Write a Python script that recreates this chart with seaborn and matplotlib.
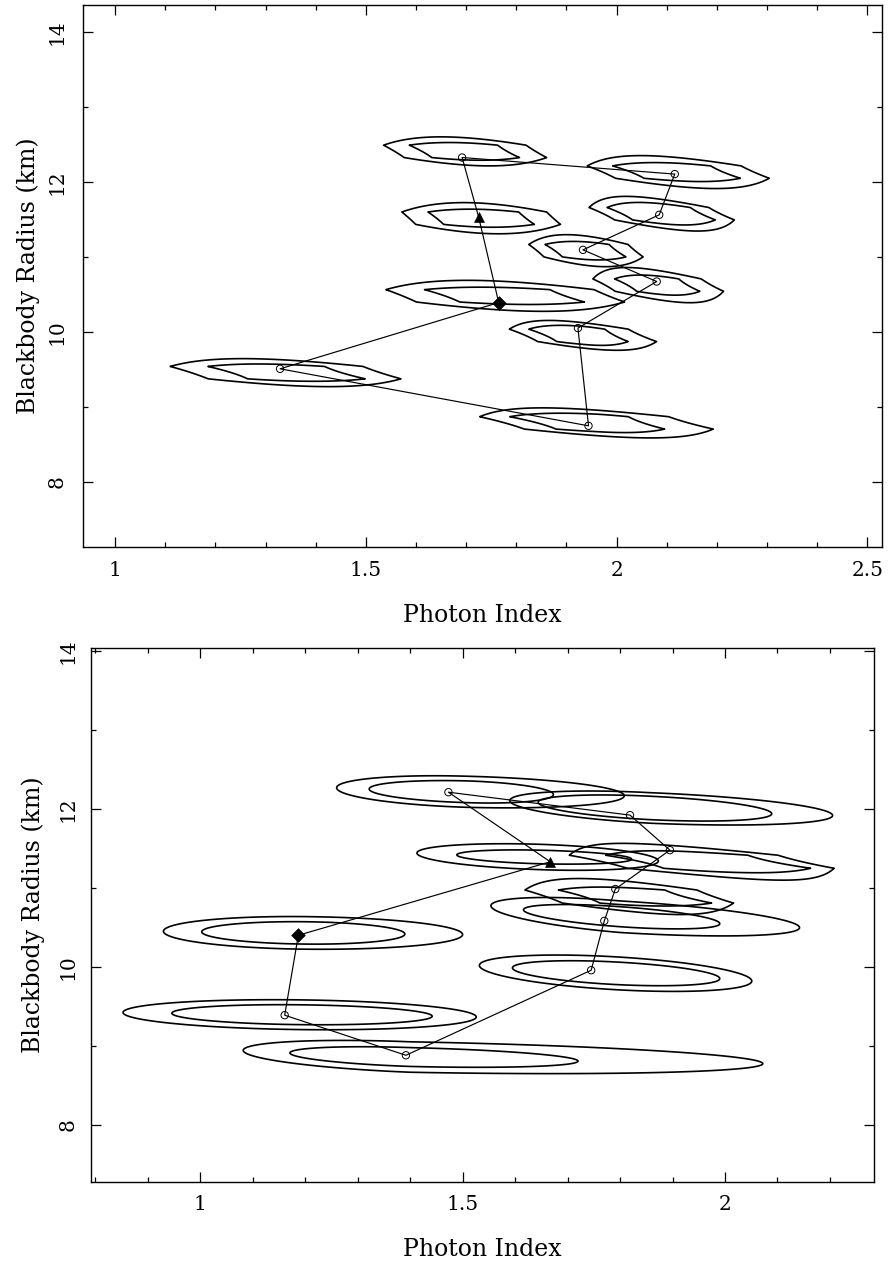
import numpy as np
import matplotlib
matplotlib.use("Agg")
import matplotlib.pyplot as plt
from matplotlib.ticker import MultipleLocator, FormatStrFormatter
import seaborn as sns

# Best-fit photon index and blackbody radius for each observation, in time order.
# The first point is drawn as a diamond, the last as a triangle, the loop is closed.
top_gamma = [1.765, 1.329, 1.944, 1.923, 2.080, 1.933, 2.085, 2.116, 1.692, 1.725]
top_radius = [10.39, 9.507, 8.747, 10.05, 10.671, 11.093, 11.56, 12.103, 12.324, 11.53]

bot_gamma = [1.187, 1.161, 1.392, 1.745, 1.770, 1.791, 1.895, 1.819, 1.473, 1.667]
bot_radius = [10.40, 9.389, 8.882, 9.958, 10.582, 10.985, 11.477, 11.92, 12.21, 11.33]

# confidence contours: centre, half-widths (left / right / vertical) and tilt
top_cx = [1.778, 1.340, 1.960, 1.933, 2.083, 1.939, 2.090, 2.123, 1.698, 1.730]
top_cy = [10.48, 9.456, 8.786, 9.953, 10.623, 11.082, 11.575, 12.130, 12.406, 11.515]
top_out_wl = [0.238, 0.230, 0.235, 0.148, 0.132, 0.114, 0.147, 0.182, 0.163, 0.160]
top_out_wr = [0.238, 0.230, 0.235, 0.148, 0.132, 0.114, 0.147, 0.182, 0.163, 0.160]
top_out_wy = [0.220, 0.206, 0.218, 0.217, 0.240, 0.225, 0.238, 0.230, 0.210, 0.220]
top_in_wl = [0.169, 0.159, 0.173, 0.108, 0.087, 0.084, 0.109, 0.132, 0.117, 0.115]
top_in_wr = [0.166, 0.163, 0.136, 0.090, 0.083, 0.082, 0.107, 0.125, 0.114, 0.115]
top_in_wy = [0.135, 0.136, 0.155, 0.160, 0.160, 0.145, 0.177, 0.150, 0.138, 0.140]
top_rho = [-0.34, -0.41, -0.50, -0.50, -0.49, -0.36, -0.50, -0.43, -0.32, -0.23]

bot_cx = [1.200, 1.190, 1.400, 1.790, 1.800, 1.820, 1.960, 1.860, 1.510, 1.650]
bot_cy = [10.43, 9.395, 8.860, 9.920, 10.635, 10.890, 11.330, 12.010, 12.215, 11.390]
bot_out_wl = [0.270, 0.337, 0.318, 0.258, 0.246, 0.204, 0.268, 0.270, 0.250, 0.237]
bot_out_wr = [0.300, 0.336, 0.672, 0.261, 0.342, 0.199, 0.259, 0.345, 0.298, 0.223]
bot_out_wy = [0.207, 0.190, 0.210, 0.230, 0.243, 0.236, 0.240, 0.215, 0.203, 0.168]
bot_in_wl = [0.197, 0.244, 0.229, 0.195, 0.184, 0.138, 0.189, 0.216, 0.188, 0.161]
bot_in_wr = [0.190, 0.252, 0.320, 0.200, 0.190, 0.155, 0.205, 0.229, 0.163, 0.172]
bot_in_wy = [0.142, 0.127, 0.130, 0.158, 0.154, 0.144, 0.170, 0.165, 0.142, 0.090]
bot_rho = [-0.10, -0.15, -0.40, -0.43, -0.57, -0.50, -0.60, -0.44, -0.25, -0.30]

x_label = "Photon Index"
y_label = "Blackbody Radius (km)"

sns.set_theme(style="ticks", rc={"axes.edgecolor": "black", "xtick.color": "black",
                                 "ytick.color": "black", "text.color": "black",
                                 "axes.labelcolor": "black"})
plt.rcParams["font.family"] = ["DejaVu Serif"]


def surface(X, Y, cx, cy, wl, wr, wy, rho):
    u = np.where(X < cx, (X - cx) / wl, (X - cx) / wr)
    v = (Y - cy) / wy
    return (u ** 2 - 2 * rho * u * v + v ** 2) / (1 - rho ** 2)


def contours(ax, cx, cy, owl, owr, owy, iwl, iwr, iwy, rho, coarse):
    # steppar-like grid: fine in x, coarse in y for the blocky contours
    for i in range(len(cx)):
        xs = np.linspace(cx[i] - 1.4 * owl[i], cx[i] + 1.4 * owr[i], 300)
        if coarse[i]:
            ys = cy[i] + 0.165 * (np.arange(-4, 4) + 0.5)
        else:
            ys = np.linspace(cy[i] - 1.5 * owy[i], cy[i] + 1.5 * owy[i], 150)
        X, Y = np.meshgrid(xs, ys)
        for wl, wr, wy in [(owl[i], owr[i], owy[i]), (iwl[i], iwr[i], iwy[i])]:
            F = surface(X, Y, cx[i], cy[i], wl, wr, wy, rho[i])
            ax.contour(X, Y, F, levels=[1.0], colors="black", linewidths=1.2)


def track(ax, gamma, radius):
    xs = list(gamma) + [gamma[0]]
    ys = list(radius) + [radius[0]]
    sns.lineplot(x=xs, y=ys, sort=False, estimator=None, color="black",
                 linewidth=0.85, ax=ax)
    sns.scatterplot(x=gamma[1:-1], y=radius[1:-1], marker="o", s=28,
                    linewidth=0.7, ax=ax, zorder=4)
    pts = ax.collections[-1]
    pts.set_facecolor("none")
    pts.set_edgecolor("black")
    sns.scatterplot(x=[gamma[0]], y=[radius[0]], marker="D", s=48, color="black",
                    edgecolor="black", linewidth=0.5, ax=ax, zorder=4)
    sns.scatterplot(x=[gamma[-1]], y=[radius[-1]], marker="^", s=50, color="black",
                    edgecolor="black", linewidth=0.5, ax=ax, zorder=4)


def style(ax, xlim, ylim, xlab_y, ylab_x, ypad):
    ax.set_xlim(*xlim)
    ax.set_ylim(*ylim)
    ax.xaxis.set_major_locator(MultipleLocator(0.5))
    ax.xaxis.set_minor_locator(MultipleLocator(0.1))
    ax.yaxis.set_major_locator(MultipleLocator(2))
    ax.yaxis.set_minor_locator(MultipleLocator(1))
    ax.xaxis.set_major_formatter(FormatStrFormatter("%g"))
    ax.yaxis.set_major_formatter(FormatStrFormatter("%g"))
    ax.tick_params(which="both", direction="in", top=True, right=True, width=0.9,
                   labelsize=14.5)
    ax.tick_params(which="major", length=7)
    ax.tick_params(which="minor", length=3.5)
    ax.tick_params(axis="x", pad=10)
    ax.tick_params(axis="y", pad=ypad, labelrotation=90)
    for lab in ax.get_yticklabels():
        lab.set_va("center")
    for sp in ax.spines.values():
        sp.set_visible(True)
        sp.set_linewidth(1.0)
    ax.set_xlabel(x_label, fontsize=17, va="center")
    ax.set_ylabel(y_label, fontsize=17, va="center")
    ax.xaxis.set_label_coords(0.5, xlab_y)
    ax.yaxis.set_label_coords(ylab_x, 0.5)


fig = plt.figure(figsize=(8.88, 12.67), dpi=100)
ax1 = fig.add_axes([0.0940, 0.5679, 0.8991, 0.4283])
ax2 = fig.add_axes([0.1025, 0.0674, 0.8818, 0.4209])

contours(ax1, top_cx, top_cy, top_out_wl, top_out_wr, top_out_wy,
         top_in_wl, top_in_wr, top_in_wy, top_rho, [True] * 10)
track(ax1, top_gamma, top_radius)
style(ax1, (0.937, 2.529), (7.125, 14.36), -0.1253, -0.0695, 12)

bot_coarse = [False, False, False, False, False, True, True, False, False, False]
contours(ax2, bot_cx, bot_cy, bot_out_wl, bot_out_wr, bot_out_wy,
         bot_in_wl, bot_in_wr, bot_in_wy, bot_rho, bot_coarse)
track(ax2, bot_gamma, bot_radius)
style(ax2, (0.792, 2.284), (7.284, 14.03), -0.127, -0.074, 10)

fig.savefig("out.png", dpi=100, facecolor="white")
